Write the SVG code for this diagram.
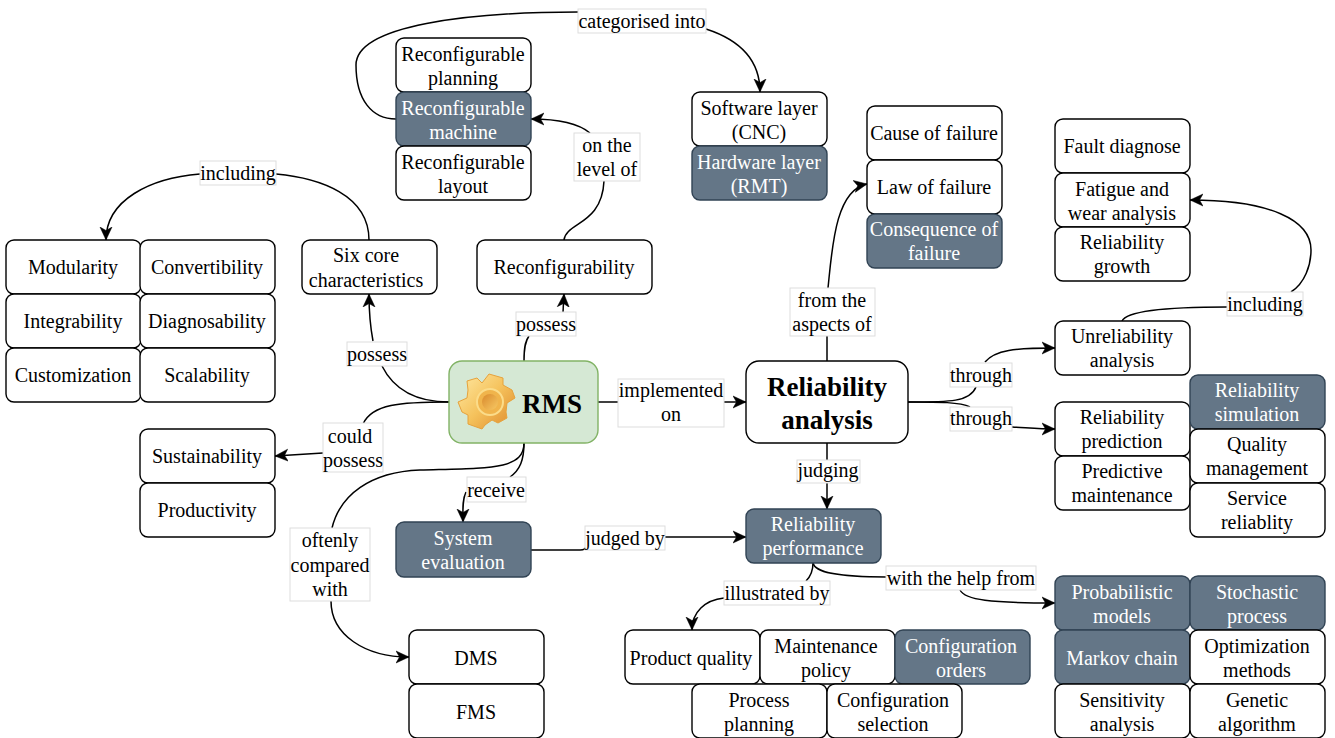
<svg xmlns="http://www.w3.org/2000/svg" width="1335" height="738" viewBox="0 0 1335 738">
<style>
text{font-family:"Liberation Serif","Times New Roman",serif;font-size:20px;text-anchor:middle;fill:#000}
.n rect{fill:#fff;stroke:#000;stroke-width:1.4}
.d rect{fill:#647687;stroke:#314354;stroke-width:1.4}
.d text{fill:#fff}
.c path{fill:none;stroke:#000;stroke-width:1.5}
.a{marker-end:url(#ah)}
.l rect{fill:#fff;stroke:#ddd;stroke-width:1}
.b{font-size:27px;font-weight:bold}
</style>
<defs>
<marker id="ah" markerUnits="userSpaceOnUse" markerWidth="16" markerHeight="14" refX="13" refY="7" orient="auto"><path d="M0 1L13 7L0 13L3.5 7Z" fill="#000" stroke="#000" stroke-width="0.5"/></marker>
<linearGradient id="gear" gradientUnits="userSpaceOnUse" x1="462" y1="378" x2="512" y2="425"><stop offset="0" stop-color="#fde49a"/><stop offset="0.5" stop-color="#f5c25c"/><stop offset="1" stop-color="#e08f30"/></linearGradient>
<linearGradient id="hub" gradientUnits="userSpaceOnUse" x1="482" y1="394" x2="498" y2="410"><stop offset="0" stop-color="#d9892c"/><stop offset="1" stop-color="#f7c964"/></linearGradient>
</defs>
<g class="c" id="connectors">
<path d="M396 119C372 119 356 100 356 65C356 25 470 12 578 12"/>
<path class="a" d="M706 29C740 40 760 60 760 92"/>
<path d="M564 240C566 222 602 225 604 181"/>
<path class="a" d="M590 133C578 123 555 119 531 119"/>
<path d="M369 240C369 195 320 178 276 174"/>
<path class="a" d="M200 174C150 178 106 200 106 240"/>
<path d="M449 402C420 402 395 392 382 366"/>
<path class="a" d="M373 341C370 325 369 310 369 294"/>
<path d="M524 361C524 345 526 340 529 336"/>
<path class="a" d="M563 312L564 294"/>
<path d="M449 402C400 402 372 404 363 424"/>
<path class="a" d="M323 453L275 456"/>
<path d="M524 443C524 470 490 468 420 470C370 472 340 495 332 528"/>
<path class="a" d="M331 601C331 635 365 657 409 657"/>
<path d="M524 443C524 460 520 470 510 477"/>
<path class="a" d="M466 492C462 500 463 510 463 522"/>
<path class="a" d="M598 402H746"/>
<path d="M531 550H580Q586 550 586 546"/>
<path class="a" d="M665 537H746"/>
<path d="M827 361V336"/>
<path class="a" d="M828 288C832 250 835 190 867 184"/>
<path d="M908 402C950 402 970 402 976 387"/>
<path class="a" d="M985 362C995 350 1015 348 1055 348"/>
<path d="M908 402C940 402 960 402 970 407"/>
<path class="a" d="M1012 427C1030 428 1040 429 1055 429"/>
<path class="a" d="M827 443V509"/>
<path d="M813 563C815 572 835 577 886 577"/>
<path class="a" d="M960 590C965 600 990 603 1055 603"/>
<path d="M813 563C813 572 810 577 806 581"/>
<path class="a" d="M724 598C705 600 692 612 692 630"/>
<path d="M1122 321C1127 310 1170 307 1227 307"/>
<path class="a" d="M1291 292C1305 283 1311 265 1311 250C1311 220 1270 200 1190 200"/>
</g>
<g id="rms"><rect x="449" y="361" width="149" height="82" rx="13" fill="#d5e8d4" stroke="#82b366" stroke-width="1.4"/>
<polygon points="467,381 477,378 482,383 489,374 503,378 503,385 512,390 515,398 507,403 506,412 507,418 498,423 492,420 485,425 482,429 468,424 468,415 462,412 458,402 467,398 468,390" fill="url(#gear)" stroke="#e6a23c" stroke-width="1" stroke-linejoin="round"/>
<circle cx="490" cy="402" r="13" fill="#f0b44c" stroke="#fbdc8a" stroke-width="2"/>
<circle cx="490" cy="402" r="8" fill="url(#hub)"/>
<text x="552" y="413" class="b">RMS</text></g>
<g id="analysis" class="n"><rect x="746" y="361" width="162" height="82" rx="13"/><text x="827" y="396" class="b">Reliability</text><text x="827" y="429" class="b">analysis</text></g>
<g id="n1" class="n"><rect x="396" y="38" width="135" height="54" rx="8"/><text x="463" y="61">Reconfigurable</text><text x="463" y="85">planning</text></g>
<g id="n2" class="d"><rect x="396" y="92" width="135" height="54" rx="8"/><text x="463" y="115">Reconfigurable</text><text x="463" y="139">machine</text></g>
<g id="n3" class="n"><rect x="396" y="146" width="135" height="54" rx="8"/><text x="463" y="169">Reconfigurable</text><text x="463" y="193">layout</text></g>
<g id="n4" class="n"><rect x="692" y="92" width="135" height="54" rx="8"/><text x="759" y="115">Software layer</text><text x="759" y="139">(CNC)</text></g>
<g id="n5" class="d"><rect x="692" y="146" width="135" height="54" rx="8"/><text x="759" y="169">Hardware layer</text><text x="759" y="193">(RMT)</text></g>
<g id="n6" class="n"><rect x="867" y="106" width="135" height="54" rx="8"/><text x="934" y="140">Cause of failure</text></g>
<g id="n7" class="n"><rect x="867" y="160" width="135" height="54" rx="8"/><text x="934" y="194">Law of failure</text></g>
<g id="n8" class="d"><rect x="867" y="214" width="135" height="54" rx="8"/><text x="934" y="236">Consequence of</text><text x="934" y="260">failure</text></g>
<g id="n9" class="n"><rect x="1055" y="119" width="135" height="54" rx="8"/><text x="1122" y="153">Fault diagnose</text></g>
<g id="n10" class="n"><rect x="1055" y="173" width="135" height="54" rx="8"/><text x="1122" y="196">Fatigue and</text><text x="1122" y="220">wear analysis</text></g>
<g id="n11" class="n"><rect x="1055" y="227" width="135" height="54" rx="8"/><text x="1122" y="249">Reliability</text><text x="1122" y="273">growth</text></g>
<g id="n12" class="n"><rect x="6" y="240" width="135" height="54" rx="8"/><text x="73" y="274">Modularity</text></g>
<g id="n13" class="n"><rect x="6" y="294" width="135" height="54" rx="8"/><text x="73" y="328">Integrability</text></g>
<g id="n14" class="n"><rect x="6" y="348" width="135" height="54" rx="8"/><text x="73" y="382">Customization</text></g>
<g id="n15" class="n"><rect x="140" y="240" width="135" height="54" rx="8"/><text x="207" y="274">Convertibility</text></g>
<g id="n16" class="n"><rect x="140" y="294" width="135" height="54" rx="8"/><text x="207" y="328">Diagnosability</text></g>
<g id="n17" class="n"><rect x="140" y="348" width="135" height="54" rx="8"/><text x="207" y="382">Scalability</text></g>
<g id="n18" class="n"><rect x="302" y="240" width="135" height="54" rx="8"/><text x="366" y="262">Six core</text><text x="366" y="287">characteristics</text></g>
<g id="n19" class="n"><rect x="477" y="240" width="175" height="54" rx="8"/><text x="564" y="274">Reconfigurability</text></g>
<g id="n20" class="n"><rect x="1055" y="321" width="135" height="54" rx="8"/><text x="1122" y="343">Unreliability</text><text x="1122" y="367">analysis</text></g>
<g id="n21" class="n"><rect x="1055" y="402" width="135" height="54" rx="8"/><text x="1122" y="424">Reliability</text><text x="1122" y="448">prediction</text></g>
<g id="n22" class="n"><rect x="1055" y="456" width="135" height="54" rx="8"/><text x="1122" y="478">Predictive</text><text x="1122" y="502">maintenance</text></g>
<g id="n23" class="d"><rect x="1190" y="375" width="135" height="54" rx="8"/><text x="1257" y="397">Reliability</text><text x="1257" y="421">simulation</text></g>
<g id="n24" class="n"><rect x="1190" y="429" width="135" height="54" rx="8"/><text x="1257" y="451">Quality</text><text x="1257" y="475">management</text></g>
<g id="n25" class="n"><rect x="1190" y="483" width="135" height="54" rx="8"/><text x="1257" y="505">Service</text><text x="1257" y="529">reliablity</text></g>
<g id="n26" class="n"><rect x="140" y="429" width="135" height="54" rx="8"/><text x="207" y="463">Sustainability</text></g>
<g id="n27" class="n"><rect x="140" y="483" width="135" height="54" rx="8"/><text x="207" y="517">Productivity</text></g>
<g id="n28" class="d"><rect x="396" y="522" width="135" height="55" rx="8"/><text x="463" y="545">System</text><text x="463" y="569">evaluation</text></g>
<g id="n29" class="d"><rect x="746" y="509" width="135" height="54" rx="8"/><text x="813" y="531">Reliability</text><text x="813" y="555">performance</text></g>
<g id="n30" class="n"><rect x="409" y="630" width="135" height="54" rx="8"/><text x="476" y="665">DMS</text></g>
<g id="n31" class="n"><rect x="409" y="684" width="135" height="54" rx="8"/><text x="476" y="719">FMS</text></g>
<g id="n32" class="n"><rect x="625" y="630" width="135" height="54" rx="8"/><text x="691" y="665">Product quality</text></g>
<g id="n33" class="n"><rect x="760" y="630" width="135" height="54" rx="8"/><text x="826" y="653">Maintenance</text><text x="826" y="677">policy</text></g>
<g id="n34" class="d"><rect x="895" y="630" width="135" height="54" rx="8"/><text x="961" y="653">Configuration</text><text x="961" y="677">orders</text></g>
<g id="n35" class="n"><rect x="692" y="684" width="135" height="54" rx="8"/><text x="759" y="707">Process</text><text x="759" y="731">planning</text></g>
<g id="n36" class="n"><rect x="827" y="684" width="135" height="54" rx="8"/><text x="893" y="707">Configuration</text><text x="893" y="731">selection</text></g>
<g id="n37" class="d"><rect x="1055" y="576" width="135" height="54" rx="8"/><text x="1122" y="599">Probabilistic</text><text x="1122" y="623">models</text></g>
<g id="n38" class="d"><rect x="1190" y="576" width="135" height="54" rx="8"/><text x="1257" y="599">Stochastic</text><text x="1257" y="623">process</text></g>
<g id="n39" class="d"><rect x="1055" y="630" width="135" height="54" rx="8"/><text x="1122" y="665">Markov chain</text></g>
<g id="n40" class="n"><rect x="1190" y="630" width="135" height="54" rx="8"/><text x="1257" y="653">Optimization</text><text x="1257" y="677">methods</text></g>
<g id="n41" class="n"><rect x="1055" y="684" width="135" height="54" rx="8"/><text x="1122" y="707">Sensitivity</text><text x="1122" y="731">analysis</text></g>
<g id="n42" class="n"><rect x="1190" y="684" width="135" height="54" rx="8"/><text x="1257" y="707">Genetic</text><text x="1257" y="731">algorithm</text></g>
<g id="labels" class="l">
<rect x="578" y="9" width="128" height="24"/><text x="642" y="28">categorised into</text>
<rect x="574" y="133" width="66" height="48"/><text x="607" y="152">on the</text><text x="607" y="176">level of</text>
<rect x="200" y="161" width="76" height="24"/><text x="238" y="180">including</text>
<rect x="347" y="342" width="60" height="24"/><text x="377" y="361">possess</text>
<rect x="516" y="312" width="60" height="24"/><text x="546" y="331">possess</text>
<rect x="323" y="423" width="60" height="49"/><text x="350" y="443">could</text><text x="353" y="467">possess</text>
<rect x="467" y="477" width="59" height="25"/><text x="496" y="497">receive</text>
<rect x="290" y="528" width="80" height="73"/><text x="330" y="547">oftenly</text><text x="330" y="572">compared</text><text x="330" y="596">with</text>
<rect x="618" y="379" width="106" height="48"/><text x="671" y="397">implemented</text><text x="671" y="421">on</text>
<rect x="585" y="526" width="80" height="24"/><text x="625" y="545">judged by</text>
<rect x="790" y="288" width="85" height="48"/><text x="832" y="307">from the</text><text x="832" y="331">aspects of</text>
<rect x="950" y="363" width="62" height="24"/><text x="981" y="382">through</text>
<rect x="950" y="407" width="62" height="24"/><text x="981" y="425">through</text>
<rect x="797" y="460" width="63" height="23"/><text x="828" y="477">judging</text>
<rect x="886" y="566" width="150" height="24"/><text x="961" y="585">with the help from</text>
<rect x="724" y="581" width="106" height="24"/><text x="777" y="600">illustrated by</text>
<rect x="1227" y="292" width="76" height="24"/><text x="1265" y="311">including</text>
</g>
</svg>
